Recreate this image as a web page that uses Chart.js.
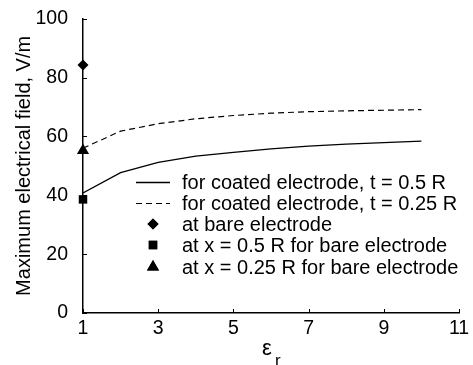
<!DOCTYPE html>
<html>
<head>
<meta charset="utf-8">
<script src="https://cdn.jsdelivr.net/npm/chart.js@4/dist/chart.umd.min.js"></script>
<style>
  html, body { margin: 0; padding: 0; background: #fff; }
  #wrap { width: 473px; height: 365px; position: relative; }
</style>
</head>
<body>
<div id="wrap"><canvas id="field-chart"></canvas></div>
<script>
// values
const epsR = [1, 2, 3, 4, 5, 6, 7, 8, 9, 10];
const coatedHalf = [40.8, 47.7, 51.2, 53.3, 54.6, 55.8, 56.7, 57.4, 57.9, 58.4];
const coatedQuarter = [56.0, 61.8, 64.3, 66.0, 67.1, 67.9, 68.4, 68.7, 68.9, 69.1];
const bareElectrode = [84.3];
const bareHalf = [38.6];
const bareQuarter = [55.2];
const legendLabels = [
    'for coated electrode, t = 0.5 R',
    'for coated electrode, t = 0.25 R',
    'at bare electrode',
    'at x = 0.5 R for bare electrode',
    'at x = 0.25 R for bare electrode'
];
const yTicks = [0, 20, 40, 60, 80, 100];
const xTicks = [1, 3, 5, 7, 9, 11];

const FONT = '"Liberation Sans", Arial, sans-serif';

function pairs(xs, ys) {
    return ys.map((v, i) => ({ x: xs[i], y: v }));
}

// inward tick marks, like the original plot
const inwardTicks = {
    id: 'inwardTicks',
    afterDraw(chart) {
        const ctx = chart.ctx;
        const xs = chart.scales.x, ys = chart.scales.y;
        ctx.save();
        ctx.strokeStyle = '#000';
        ctx.lineWidth = 1;
        xTicks.forEach(t => {
            const px = Math.round(xs.getPixelForValue(t)) + 0.5;
            ctx.beginPath();
            ctx.moveTo(px, ys.bottom);
            ctx.lineTo(px, ys.bottom - 4);
            ctx.stroke();
        });
        yTicks.forEach(t => {
            const py = Math.round(ys.getPixelForValue(t)) + 0.5;
            ctx.beginPath();
            ctx.moveTo(xs.left, py);
            ctx.lineTo(xs.left + 4, py);
            ctx.stroke();
        });
        ctx.restore();
    }
};

// legend inside the plot area
const innerLegend = {
    id: 'innerLegend',
    afterDraw(chart) {
        const ctx = chart.ctx;
        const x0 = 136, x1 = 170, tx = 182;
        const rows = [182, 203, 224, 245, 267];
        ctx.save();
        ctx.font = '20px ' + FONT;
        ctx.textBaseline = 'middle';
        ctx.fillStyle = '#000';
        chart.data.datasets.forEach((ds, i) => {
            const y = rows[i];
            if (ds.showLine) {
                ctx.save();
                ctx.strokeStyle = ds.borderColor;
                ctx.lineWidth = ds.borderWidth;
                ctx.setLineDash(ds.borderDash || []);
                ctx.beginPath();
                ctx.moveTo(x0, y + 0.5);
                ctx.lineTo(x1, y + 0.5);
                ctx.stroke();
                ctx.restore();
            } else {
                Chart.helpers.drawPoint(ctx, {
                    pointStyle: ds.pointStyle,
                    radius: ds.pointRadius,
                    borderWidth: 0
                }, (x0 + x1) / 2, y);
                ctx.fill();
            }
            ctx.fillText(legendLabels[i], tx, y + 1);
        });
        ctx.restore();
    }
};

// x title with subscript r
const xTitle = {
    id: 'xTitle',
    afterDraw(chart) {
        const ctx = chart.ctx;
        ctx.save();
        ctx.fillStyle = '#000';
        ctx.textBaseline = 'alphabetic';
        ctx.font = '22px ' + FONT;
        ctx.textAlign = 'left';
        ctx.fillText('ε', 262, 355);
        ctx.font = '17px ' + FONT;
        ctx.fillText('r', 275, 366);
        ctx.restore();
    }
};

const ctx = document.getElementById('field-chart').getContext('2d');
window.fieldChart = new Chart(ctx, {
    type: 'scatter',
    data: {
        datasets: [{
            label: legendLabels[0],
            data: pairs(epsR, coatedHalf),
            showLine: true,
            borderColor: '#000',
            backgroundColor: '#000',
            borderWidth: 1.3,
            pointRadius: 0,
            tension: 0
        }, {
            label: legendLabels[1],
            data: pairs(epsR, coatedQuarter),
            showLine: true,
            borderColor: '#000',
            backgroundColor: '#000',
            borderWidth: 1.2,
            borderDash: [6, 4],
            pointRadius: 0,
            tension: 0
        }, {
            label: legendLabels[2],
            data: pairs([1], bareElectrode),
            showLine: false,
            pointStyle: 'rectRot',
            pointRadius: 5.5,
            backgroundColor: '#000',
            borderWidth: 0,
            clip: false
        }, {
            label: legendLabels[3],
            data: pairs([1], bareHalf),
            showLine: false,
            pointStyle: 'rect',
            pointRadius: 6,
            backgroundColor: '#000',
            borderWidth: 0,
            clip: false
        }, {
            label: legendLabels[4],
            data: pairs([1], bareQuarter),
            showLine: false,
            pointStyle: 'triangle',
            pointRadius: 7,
            backgroundColor: '#000',
            borderWidth: 0,
            clip: false
        }]
    },
    options: {
        responsive: true,
        maintainAspectRatio: false,
        animation: false,
        layout: {
            padding: { top: 16, right: 14, left: 0, bottom: 0 }
        },
        scales: {
            x: {
                type: 'linear',
                min: 1,
                max: 11,
                afterBuildTicks(scale) {
                    scale.ticks = xTicks.map(v => ({ value: v }));
                },
                afterFit(scale) { scale.height = 52; },
                grid: { display: false },
                border: { display: true, color: '#000', width: 1.5 },
                ticks: {
                    color: '#000',
                    padding: -4,
                    maxRotation: 0,
                    font: { family: FONT, size: 19.5 }
                }
            },
            y: {
                type: 'linear',
                min: 0,
                max: 100,
                afterBuildTicks(scale) {
                    scale.ticks = yTicks.map(v => ({ value: v }));
                },
                afterFit(scale) { scale.width = 83; },
                grid: { display: false },
                border: { display: true, color: '#000', width: 1.5 },
                title: {
                    display: true,
                    text: 'Maximum electrical field, V/m',
                    color: '#000',
                    font: { family: FONT, size: 20 },
                    padding: { top: 12, bottom: 0 }
                },
                ticks: {
                    color: '#000',
                    padding: 7,
                    font: { family: FONT, size: 19.5 }
                }
            }
        },
        plugins: {
            legend: { display: false },
            tooltip: { enabled: false }
        }
    },
    plugins: [inwardTicks, innerLegend, xTitle]
});
</script>
</body>
</html>
